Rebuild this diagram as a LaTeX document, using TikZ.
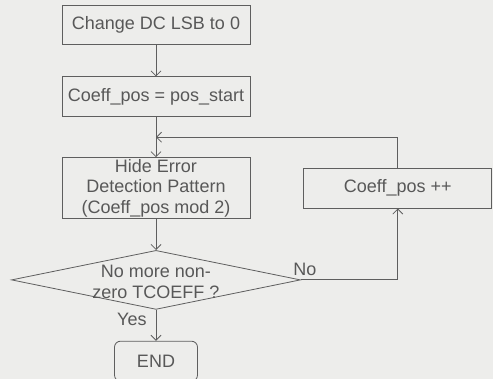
\documentclass[tikz,border=0pt]{standalone}
\usepackage{fontspec}
\setmainfont{Liberation Sans}
\usetikzlibrary{arrows.meta, positioning, shapes.geometric, calc}
\definecolor{cLine}{HTML}{5E5E5E}
\definecolor{cText}{HTML}{585858}
\definecolor{cPaper}{HTML}{EDEDEB}
\tikzset{
  font=\fontsize{18}{20.5}\selectfont,
  block/.style={draw=cLine, line width=0.8pt, text=cText, align=center,
    minimum width=188pt, minimum height=40pt, inner sep=1pt},
  procblock/.style={block},
  decisionblock/.style={diamond, draw=cLine, line width=0.8pt,
    minimum width=289pt, minimum height=59pt, inner sep=0pt},
  decisiontext/.style={text=cText, align=center, inner sep=0pt},
  endblock/.style={block, rounded corners=6pt, minimum width=83pt},
  flow/.style={-{Straight Barb[length=5pt, width=10pt]}, line width=0.8pt, draw=cLine},
  branchlabel/.style={text=cText, inner sep=0pt},
}

\begin{document}
\begin{tikzpicture}[x=1pt, y=-1pt]

  % ----------------------------------------------------------------
  % Paper
  % ----------------------------------------------------------------
  \fill[cPaper] (0,0) rectangle (493,379);
  \useasboundingbox (0,0) rectangle (493,379);

  % ----------------------------------------------------------------
  % Main column
  % ----------------------------------------------------------------
  \node[procblock, minimum height=39pt] (change) at (156,24.5) {Change DC LSB to 0};
  \node[procblock, below=32pt of change] (init) {Coeff\_pos = pos\_start};
  \node[procblock, below=40pt of init, minimum height=61pt] (hide)
    {Hide Error\\ Detection Pattern\\ (Coeff\_pos mod 2)};

  \node[decisionblock, below=31pt of hide] (test) {};
  \node[decisiontext] (testtext) at ([yshift=-2pt]test.center)
    {No more non-\\zero TCOEFF ?};

  \node[endblock, below=31pt of test] (finish) {END};

  % ----------------------------------------------------------------
  % Loop branch
  % ----------------------------------------------------------------
  \node[procblock, right=53pt of hide] (incr) {Coeff\_pos ++};
  \coordinate (join) at ($(init.south)!0.5!(hide.north)$);

  % ----------------------------------------------------------------
  % Arrows
  % ----------------------------------------------------------------
  \draw[flow] (change) -- (init);
  \draw[flow] (init) -- (hide);
  \draw[flow] (hide) -- (test);
  \draw[flow] (test) -- node[branchlabel, pos=0.3, left=9pt] (yes) {Yes} (finish);
  \draw[flow] (test.east) -| node[branchlabel, pos=0, anchor=south west,
    xshift=-8pt, yshift=4pt] (no) {No} (incr.south);
  \draw[flow] (incr.north) |- (join);

\end{tikzpicture}
\end{document}
